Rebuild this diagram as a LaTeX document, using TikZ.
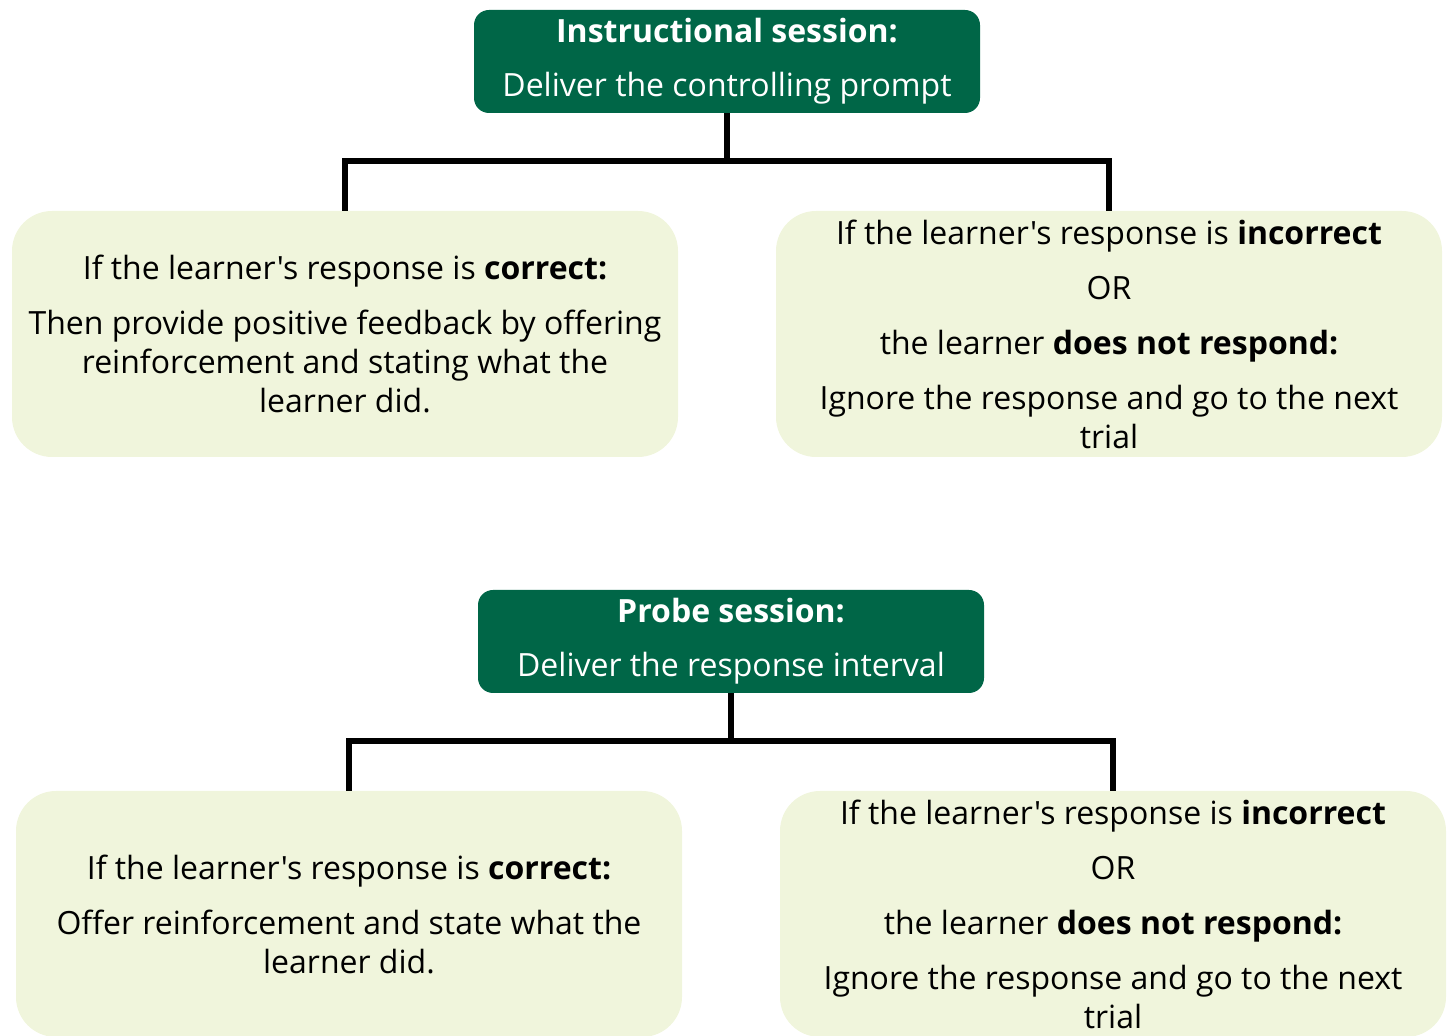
\documentclass[tikz,border=0pt]{standalone}
\usepackage{fontspec}
\setmainfont{Open Sans}[Ligatures=TeXOff]
\definecolor{sessiongreen}{RGB}{0,102,71}
\definecolor{answerfill}{RGB}{240,245,220}
\tikzset{
  basic/.style   = {rectangle, align=center, inner sep=0pt,
                    font=\fontsize{16}{19.5}\selectfont},
  session/.style = {basic, fill=sessiongreen, text=white, rounded corners=7.5pt,
                    minimum width=253pt, minimum height=51.5pt},
  answer/.style  = {basic, fill=answerfill, text=black, rounded corners=20pt,
                    minimum width=333pt, minimum height=123pt},
  link/.style    = {draw, line width=3pt, line join=miter}
}

\begin{document}
\begin{tikzpicture}[x=0.5pt, y=-0.5pt]
\useasboundingbox (0,0) rectangle (1453,1036);

% instructional session and its two outcomes
\node[session] (h1) at (727,61.5) {\textbf{Instructional session:}\\[7.5pt]Deliver the controlling prompt};
\node[answer] (c11) at (345,334) {If the learner's response is \textbf{correct:}\\[8pt]
  Then provide positive feedback by offering\\reinforcement and stating what the\\learner did.};
\node[answer] (c12) at (1109,334) {If the learner's response is \textbf{incorrect}\\[8pt]
  OR\\[8pt]the learner \textbf{does not respond:}\\[8pt]Ignore the response and go to the next\\trial};

% probe session and its two outcomes
\node[session] (h2) at (731,641.5) {\textbf{Probe session:}\\[7.5pt]Deliver the response interval};
\node[answer] (c21) at (349,914) {If the learner's response is \textbf{correct:}\\[8pt]
  Offer reinforcement and state what the\\learner did.};
\node[answer] (c22) at (1113,914) {If the learner's response is \textbf{incorrect}\\[8pt]
  OR\\[8pt]the learner \textbf{does not respond:}\\[8pt]Ignore the response and go to the next\\trial};

% lines from each session to its outcomes
\foreach \s in {1,2}
  \foreach \c in {1,2}
    \draw[link] (h\s.south) -- ++(0,48) -| (c\s\c.north);
\end{tikzpicture}
\end{document}
